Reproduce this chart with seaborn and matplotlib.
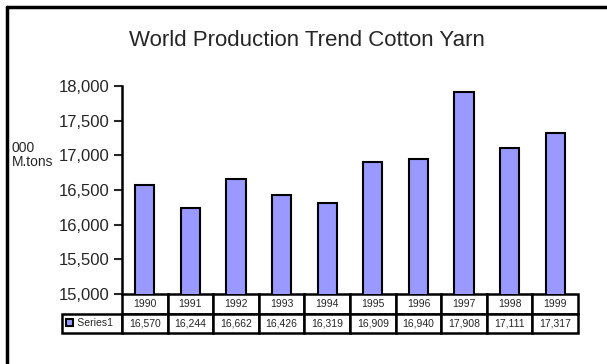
import matplotlib
matplotlib.use('Agg')
import matplotlib.pyplot as plt
import matplotlib.ticker as mticker
import pandas as pd
import seaborn as sns

anos = ['1990', '1991', '1992', '1993', '1994', '1995', '1996', '1997', '1998', '1999']
producao = [16570, 16244, 16662, 16426, 16319, 16909, 16940, 17908, 17111, 17317]
serie = 'Series1'
titulo = 'World Production Trend Cotton Yarn'
ylabel = '000\nM.tons'
cor_barra = '#9999FF'

sns.set_style('white')
plt.rcParams['font.family'] = ['Liberation Sans', 'DejaVu Sans']

df = pd.DataFrame({'Ano': anos, 'Producao': producao, 'Serie': serie})

W, H = 607, 364
fig = plt.figure(figsize=(W / 100, H / 100), dpi=100)
# eixo: x 122..578 px, y 86..294 px
ax = fig.add_axes([122 / W, 1 - 294 / H, (578 - 122) / W, (294 - 86) / H])

sns.barplot(data=df, x='Ano', y='Producao', hue='Serie', palette=[cor_barra],
            saturation=1, edgecolor='black', linewidth=1.5, width=0.42, ax=ax)

ax.set_ylim(15000, 18000)
ax.set_xlim(-0.5, len(anos) - 0.5)
ax.yaxis.set_major_locator(mticker.MultipleLocator(500))
ax.yaxis.set_major_formatter(mticker.StrMethodFormatter('{x:,.0f}'))
ax.tick_params(axis='y', direction='out', length=6, width=1.5, labelsize=12, pad=3, left=True)
ax.tick_params(axis='x', bottom=False, labelbottom=False)
ax.set_xlabel('')
ax.set_ylabel('')
for s in ['top', 'right', 'bottom']:
    ax.spines[s].set_visible(False)
ax.spines['left'].set_linewidth(1.8)
ax.spines['left'].set_color('black')

# tabela de dados abaixo do eixo
row_h = 19.5 / 208
lab_w = 60 / 456
celulas = [[''] + anos, ['     ' + serie] + [f'{v:,}' for v in producao]]
tab = ax.table(cellText=celulas, cellLoc='center',
               colWidths=[lab_w] + [1 / len(anos)] * len(anos),
               bbox=[-lab_w, -2 * row_h, 1 + lab_w, 2 * row_h])
tab.auto_set_font_size(False)
tab.set_fontsize(7.5)
for (r, c), cell in tab.get_celld().items():
    cell.set_linewidth(1.8)
    cell.set_edgecolor('black')
    if r == 0 and c == 0:
        cell.visible_edges = ''
    if c == 0:
        cell.get_text().set_ha('left')
        cell.PAD = 0.02

leg = ax.legend(loc='center left', bbox_to_anchor=(-lab_w - 0.003, -1.5 * row_h),
                frameon=False, handlelength=0.7, handleheight=0.7, handletextpad=0.3,
                borderpad=0, fontsize=7.5)
for t in leg.get_texts():
    t.set_alpha(0)

fig.text(307 / W, 1 - 40 / H, titulo, ha='center', va='center', fontsize=16)
fig.text(12 / W, 1 - 155 / H, ylabel, ha='left', va='center', fontsize=10, linespacing=0.95)

# moldura da figura (topo e esquerda)
fig.add_artist(plt.Line2D([7 / W, 1], [1 - 7 / H, 1 - 7 / H], color='black', lw=2.5, transform=fig.transFigure))
fig.add_artist(plt.Line2D([7 / W, 7 / W], [0, 1 - 7 / H], color='black', lw=2.5, transform=fig.transFigure))

fig.savefig('out.png', dpi=100)
